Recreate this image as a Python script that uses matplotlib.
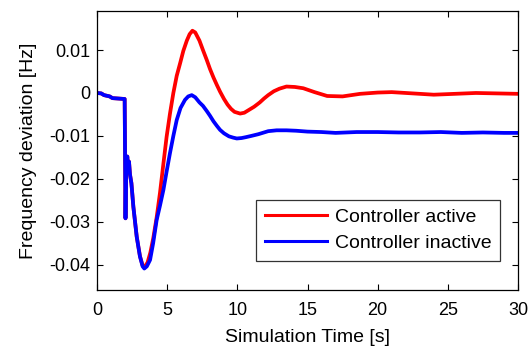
import matplotlib
matplotlib.use("Agg")
import matplotlib.pyplot as plt

plt.rcParams['font.family'] = ['Liberation Sans', 'DejaVu Sans']
plt.rcParams['axes.unicode_minus'] = False

# Controller active (red)
t_active = [0.0, 0.3, 0.5, 0.9, 1.1, 1.97, 2.0, 2.03, 2.08, 2.16, 2.22, 2.28, 2.35, 2.45,
            2.59, 2.83, 3.06, 3.25, 3.4, 3.6, 3.8, 4.01, 4.25, 4.49, 4.73, 4.96, 5.2, 5.44,
            5.68, 5.92, 6.15, 6.4, 6.6, 6.8, 7.0, 7.3, 7.55, 7.82, 8.05, 8.3, 8.55, 8.77,
            9.05, 9.3, 9.55, 9.8, 10.2, 10.5, 10.8, 11.2, 11.6, 11.9, 12.2, 12.6, 13.0,
            13.5, 14.1, 14.7, 15.5, 16.4, 17.5, 18.75, 20.0, 21.0, 22.5, 24.0, 25.5, 27.0,
            28.5, 30.0]
f_active = [0.0, -0.0001, -0.0005, -0.0008, -0.0012, -0.0014, -0.0150, -0.0292, -0.0160,
            -0.0148, -0.0175, -0.0160, -0.0190, -0.0210,
            -0.0265, -0.0335, -0.0380, -0.0402, -0.0405, -0.0395, -0.0372, -0.0338, -0.0290,
            -0.0232, -0.0165, -0.0102, -0.0048, 0.0000,
            0.0040, 0.0069, 0.0098, 0.0122, 0.0137, 0.0145, 0.0141, 0.0122, 0.0100, 0.0077,
            0.0056, 0.0036, 0.0018, 0.0003,
            -0.0014, -0.0027, -0.0037, -0.0044, -0.0048, -0.0046, -0.0040, -0.0032, -0.0022,
            -0.0013, -0.0005, 0.0004, 0.0010,
            0.0015, 0.0014, 0.0011, 0.0002, -0.0007, -0.0008, -0.0002, 0.0001, 0.0002,
            -0.0001, -0.0004, -0.0002, 0.0000, -0.0001, -0.0002]

# Controller inactive (blue)
t_inactive = [0.0, 0.3, 0.5, 0.9, 1.1, 1.97, 2.0, 2.03, 2.08, 2.16, 2.22, 2.28, 2.35, 2.45,
              2.59, 2.83, 3.06, 3.25, 3.37, 3.55, 3.78, 4.0, 4.25, 4.49, 4.73, 4.96, 5.2,
              5.44, 5.68, 5.95, 6.27, 6.5, 6.75, 7.0, 7.3, 7.55, 7.82, 8.05, 8.3, 8.55, 8.77,
              9.05, 9.4, 9.7, 9.96, 10.3, 10.6, 11.0, 11.5, 12.2, 12.8, 13.5, 14.2, 15.0,
              16.0, 17.0, 18.5, 20.0, 21.5, 23.0, 24.5, 26.0, 27.5, 29.0, 30.0]
f_inactive = [0.0, -0.0001, -0.0005, -0.0008, -0.0012, -0.0014, -0.0150, -0.0292, -0.0160,
              -0.0148, -0.0175, -0.0160, -0.0190, -0.0210,
              -0.0265, -0.0335, -0.0381, -0.0404, -0.0409, -0.0404, -0.0389, -0.0350, -0.0296,
              -0.0262, -0.0226, -0.0183, -0.0140,
              -0.0100, -0.0063, -0.0035, -0.0016, -0.0008, -0.0005, -0.0010, -0.0022, -0.0030,
              -0.0042, -0.0053, -0.0066, -0.0077, -0.0086,
              -0.0094, -0.0101, -0.0104, -0.0106, -0.0105, -0.0103, -0.0100, -0.0096, -0.0089,
              -0.0087, -0.0087, -0.0088, -0.0090,
              -0.0091, -0.0093, -0.0091, -0.0091, -0.0092, -0.0092, -0.0091, -0.0093, -0.0092,
              -0.0093, -0.0093]

series_labels = ['Controller active', 'Controller inactive']
x_ticks = [0, 5, 10, 15, 20, 25, 30]
y_ticks = [-0.04, -0.03, -0.02, -0.01, 0.0, 0.01]
y_tick_labels = ['-0.04', '-0.03', '-0.02', '-0.01', '0', '0.01']

fig = plt.figure(figsize=(5.31, 3.48), dpi=100)
ax = fig.add_axes([0.1827, 0.1667, 0.7928, 0.8017])

ax.plot(t_active, f_active, color='#ff0000', lw=2.7, label=series_labels[0], solid_joinstyle='round')
ax.plot(t_inactive, f_inactive, color='#0000ff', lw=2.7, label=series_labels[1], solid_joinstyle='round')

ax.set_xlim(0, 30)
ax.set_ylim(-0.0459, 0.0191)
ax.set_xticks(x_ticks)
ax.set_xticklabels([str(v) for v in x_ticks])
ax.set_yticks(y_ticks)
ax.set_yticklabels(y_tick_labels)
ax.tick_params(direction='in', length=4, width=0.8, top=True, right=True,
               labelsize=13, colors='black')
ax.tick_params(axis='x', pad=9)
ax.tick_params(axis='y', pad=5)
for s in ax.spines.values():
    s.set_linewidth(0.9)
    s.set_color('black')

ax.set_xlabel('Simulation Time [s]', fontsize=14, labelpad=7)
ax.set_ylabel('Frequency deviation [Hz]', fontsize=14, labelpad=9)

leg = ax.legend(loc='lower right', bbox_to_anchor=(0.957, 0.104), borderaxespad=0,
                fontsize=14, frameon=True, fancybox=False, edgecolor='black',
                handlelength=3.2, handletextpad=0.4, borderpad=0.45, labelspacing=0.45)
leg.get_frame().set_linewidth(0.9)
for line in leg.get_lines():
    line.set_linewidth(2.2)

fig.savefig('out.png', dpi=100)
